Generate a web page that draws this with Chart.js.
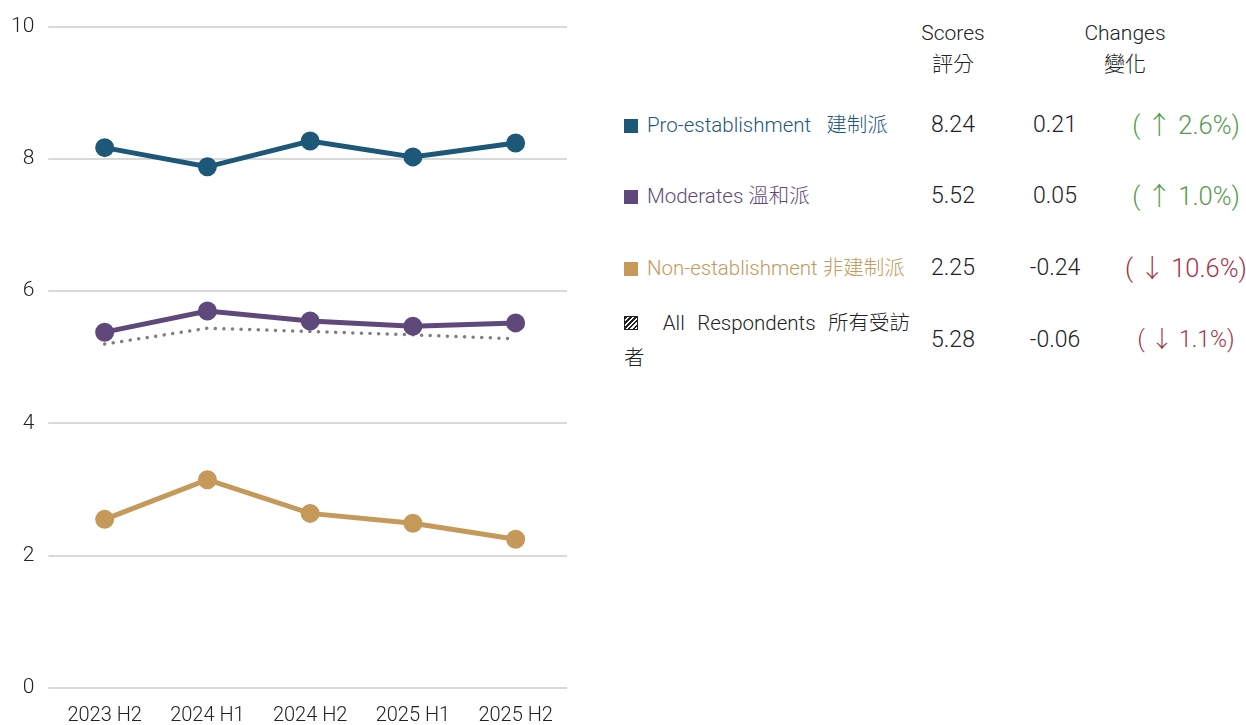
<!DOCTYPE html>
<html>
<head>
<meta charset="utf-8">
<script src="https://cdn.jsdelivr.net/npm/chart.js@4/dist/chart.umd.min.js"></script>
<style>
    body { margin: 0; background: #fff; font-family: Roboto, "Noto Sans CJK TC", sans-serif; font-weight: 300; color: #222; overflow: hidden; }
    #wrap { position: absolute; left: -7px; top: 0; width: 587px; height: 736px; }
    .t { position: absolute; font-size: 20.5px; white-space: nowrap; line-height: 30px; }
    .c { transform: translateX(-50%); text-align: center; }
    .hd { font-size: 21px; line-height: 31px; }
    .num { font-size: 23px; }
    .sq { display: inline-block; width: 14px; height: 14px; margin-right: 9px; vertical-align: -1px; }
    .hatch { display: inline-block; width: 12px; height: 12px; border: 1px solid #222; vertical-align: 0px;
        background: repeating-linear-gradient(135deg, #222 0 1.5px, #fff 1.5px 3.5px); }
    .up { color: #579a4e; }
    .down { color: #a93247; }
</style>
</head>
<body>
<div id="wrap"><canvas id="chart"></canvas></div>

<div class="t c hd" style="left:953px; top:18px;">Scores<br>評分</div>
<div class="t c hd" style="left:1125px; top:18px;">Changes<br>變化</div>

<div class="t" style="left:624px; top:110px; color:#1d5879;"><span class="sq" style="background:#1d5879"></span>Pro-establishment&nbsp;&nbsp; 建制派</div>
<div class="t" style="left:624px; top:181px; color:#5f497a;"><span class="sq" style="background:#5f497a"></span>Moderates 溫和派</div>
<div class="t" style="left:624px; top:253px; color:#c4995a;"><span class="sq" style="background:#c4995a"></span>Non-establishment 非建制派</div>
<div class="t" style="left:624px; top:308px; width:286px; white-space:normal; text-align:justify; text-align-last:justify;"><span class="hatch"></span>&nbsp; All Respondents <span style="display:inline-block">所有受訪</span></div>
<div class="t" style="left:624px; top:343px;">者</div>

<div id="table"></div>

<script>
    const labels = ['2023 H2', '2024 H1', '2024 H2', '2025 H1', '2025 H2'];
    const proEstablishment = [8.17, 7.88, 8.27, 8.03, 8.24];
    const moderates = [5.38, 5.70, 5.55, 5.47, 5.52];
    const nonEstablishment = [2.55, 3.15, 2.64, 2.49, 2.25];
    const allRespondents = [5.20, 5.44, 5.39, 5.34, 5.28];

    const scores = ['8.24', '5.52', '2.25', '5.28'];
    const changes = ['0.21', '0.05', '-0.24', '-0.06'];
    const percents = ['( ↑ 2.6%)', '( ↑ 1.0%)', '( ↓ 10.6%)', '( ↓ 1.1%)'];
    const rowCenters = [125, 196, 268, 340];

    const table = document.getElementById('table');
    scores.forEach((s, i) => {
        const up = !changes[i].startsWith('-');
        const top = rowCenters[i] - 15;
        table.innerHTML += `
            <div class="t c num" style="left:953px; top:${top}px;">${s}</div>
            <div class="t c num" style="left:1055px; top:${top}px;">${changes[i]}</div>
            <div class="t c ${up ? 'up' : 'down'}" style="left:1186px; top:${top}px; font-size:${i === 3 ? 23 : 25.5}px;">${percents[i]}</div>
        `;
    });

    const ctx = document.getElementById('chart').getContext('2d');
    new Chart(ctx, {
        type: 'line',
        data: {
            labels: labels,
            datasets: [
                { label: 'Pro-establishment', data: proEstablishment, borderColor: '#1d5879', backgroundColor: '#1d5879', borderWidth: 5, pointRadius: 7, pointHoverRadius: 7 },
                { label: 'Moderates', data: moderates, borderColor: '#5f497a', backgroundColor: '#5f497a', borderWidth: 5, pointRadius: 7, pointHoverRadius: 7 },
                { label: 'Non-establishment', data: nonEstablishment, borderColor: '#c4995a', backgroundColor: '#c4995a', borderWidth: 5, pointRadius: 7, pointHoverRadius: 7 },
                { label: 'All Respondents', data: allRespondents, borderColor: '#808080', borderWidth: 3.5, borderDash: [0.1, 8.5], borderCapStyle: 'round', pointRadius: 0 }
            ]
        },
        options: {
            responsive: true,
            maintainAspectRatio: false,
            animation: false,
            layout: { padding: { top: 24, right: 13, bottom: 0, left: 4 } },
            plugins: { legend: { display: false }, tooltip: { enabled: false } },
            scales: {
                x: {
                    offset: true,
                    grid: { display: false },
                    border: { display: false },
                    ticks: { color: '#222', font: { family: 'Roboto', size: 20, weight: 300 }, padding: 8, maxRotation: 0 }
                },
                y: {
                    min: 0,
                    max: 10,
                    ticks: { stepSize: 2, color: '#222', font: { family: 'Roboto', size: 21, weight: 300 }, padding: 14 },
                    grid: { color: '#d9d9d9', lineWidth: 2, tickLength: 5, tickColor: '#d9d9d9' },
                    border: { display: false }
                }
            }
        }
    });
</script>
</body>
</html>
